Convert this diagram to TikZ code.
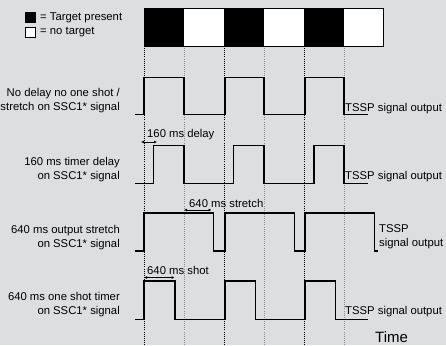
\documentclass[tikz,border=0pt]{standalone}
\usepackage{fontspec}
\setmainfont{Liberation Sans}
\usetikzlibrary{arrows.meta}
\begin{document}
\begin{tikzpicture}[x=1pt,y=-1pt,
  lbl/.style={font=\fontsize{11.3}{14}\selectfont,inner sep=0pt},
  sig/.style={line width=1.3pt,line join=miter},
  darkdot/.style={black,line width=0.8pt,dash pattern=on 0.9pt off 1.2pt},
  lightdot/.style={black!45,line width=0.7pt,dash pattern=on 0.9pt off 1.2pt},
  dim/.style={{Latex[length=3pt,width=3pt]}-{Latex[length=3pt,width=3pt]},line width=0.6pt}]
\fill[fill={rgb,255:red,221;green,222;blue,224}] (0,0) rectangle (446,345);
\useasboundingbox (0,0) rectangle (446,345);
% target bar
\foreach \i/\c in {0/black,1/white,2/black,3/white,4/black,5/white}{
  \fill[\c] (144+40*\i,8.5) rectangle (184+40*\i,46.5);
}
\draw[line width=0.8pt] (144,8.5) rectangle (383.5,46.5);
% dotted verticals
\foreach \x in {144,224,304} \draw[darkdot] (\x,48) -- (\x,345);
\foreach \x in {184,264,344} \draw[lightdot] (\x,48) -- (\x,345);
% legend
\fill[black] (25,12.5) rectangle (35.5,23);
\draw[fill=white,line width=0.6pt] (25.5,27.5) rectangle (35,37);
\node[lbl,anchor=west] (lg1) at (40,18) {= Target present};
\node[lbl,anchor=west] (lg2) at (40,32) {= no target};
% signal 1
\draw[sig] (135,114.5) -| (144,77.5) -| (184,114.5) -| (225,77.5) -| (264,114.5) -| (305,77.5) -| (344,114.5) -- (368,114.5);
\node[lbl,anchor=east,align=right] (l1) at (120,101) {No delay no one shot /\\stretch on SSC1* signal};
\node[lbl,anchor=west] (o1) at (345,108.5) {TSSP signal output};
% signal 2
\draw[sig] (135,183.5) -| (153.5,145.5) -| (184,183.5) -| (233.5,145.5) -| (264,183.5) -| (314,145.5) -| (344,183.5) -- (368,183.5);
\node[lbl,anchor=east,align=right] (l2) at (120,169.5) {160 ms timer delay\\on SSC1* signal};
\node[lbl,anchor=west] (o2) at (345,176.5) {TSSP signal output};
\draw[dim] (141,142) -- (157,142);
\node[lbl,anchor=west] (d2) at (147,134.5) {160 ms delay};
% signal 3
\draw[sig] (135,251) -| (144,213) -| (213.5,251) -| (225,213) -| (294.5,251) -| (305,213) -| (374.5,251) -- (378,251);
\node[lbl,anchor=east,align=right] (l3) at (120,237.5) {640 ms output stretch\\on SSC1* signal};
\node[lbl,anchor=west,align=left] (o3) at (379,237) {TSSP\\signal output};
\draw[dim] (184,210) -- (211.5,210);
\node[lbl,anchor=west] (d3) at (189,203) {640 ms stretch};
% signal 4
\draw[sig] (135,319.5) -| (144,281) -| (175,319.5) -| (225,281) -| (255.5,319.5) -| (305,281) -| (335.5,319.5) -- (368,319.5);
\node[lbl,anchor=east,align=right] (l4) at (120,304.5) {640 ms one shot timer\\on SSC1* signal};
\node[lbl,anchor=west] (o4) at (345,311.5) {TSSP signal output};
\draw[dim] (144,277.5) -- (174.5,277.5);
\node[lbl,anchor=west] (d4) at (147,270.5) {640 ms shot};
\node[inner sep=0pt,font=\fontsize{15}{17}\selectfont,anchor=west] (tm) at (375,337.5) {Time};
\end{tikzpicture}
\end{document}
